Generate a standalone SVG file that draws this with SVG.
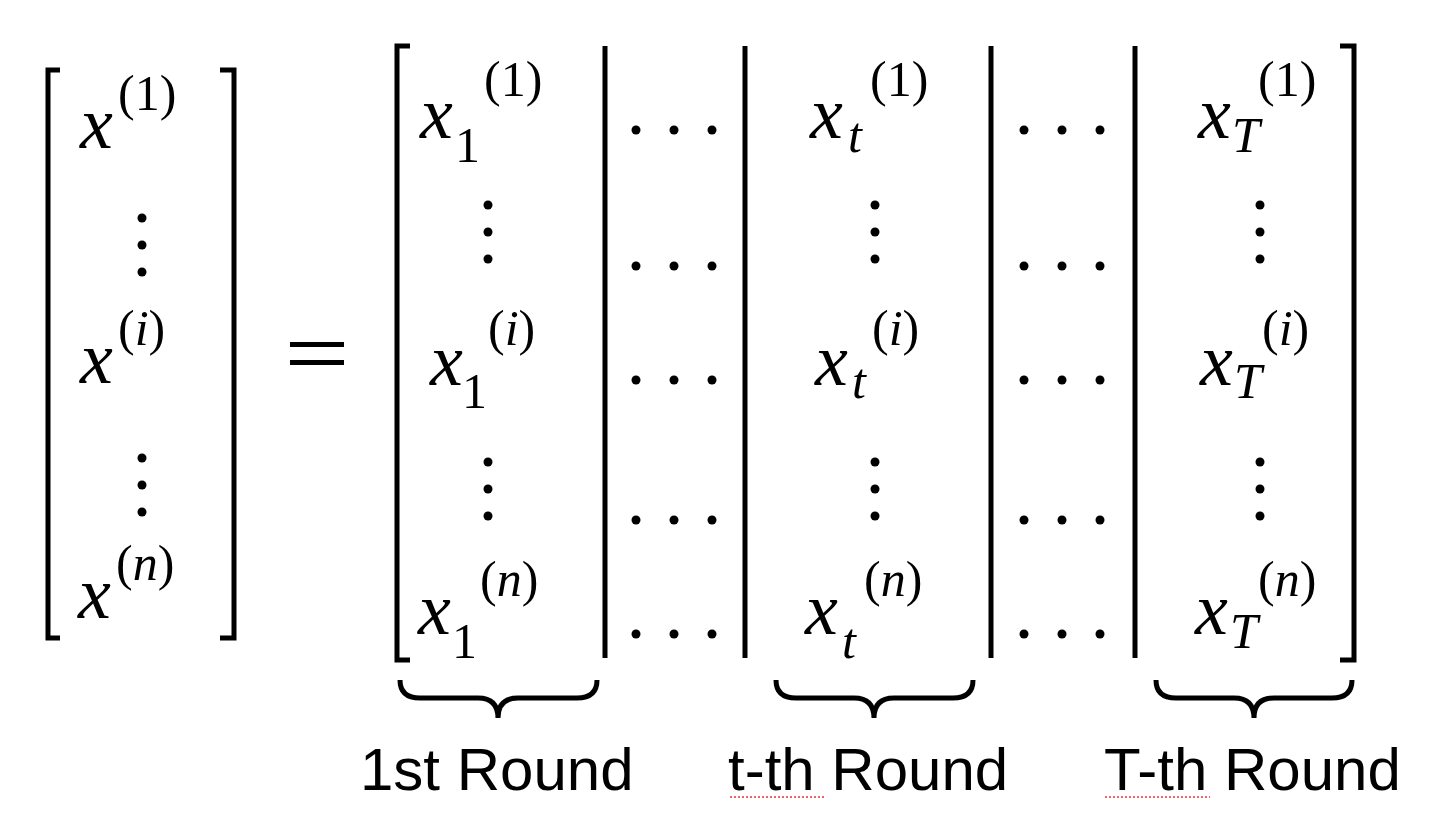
<svg xmlns="http://www.w3.org/2000/svg" width="1432" height="818" viewBox="0 0 1432 818">
<style>
.m{font-family:"Liberation Serif",serif;font-style:italic;font-size:74px;fill:#000}
.s{font-family:"Liberation Serif",serif;font-size:50px;fill:#000}
.si{font-family:"Liberation Serif",serif;font-style:italic;font-size:50px;fill:#000}
.br{fill:none;stroke:#000;stroke-width:5}
.lab{font-family:"Liberation Sans",sans-serif;font-size:60px;fill:#000}
</style>
<defs>
<g id="vd"><circle cx="0" cy="0" r="4.5"/><circle cx="0" cy="27" r="4.5"/><circle cx="0" cy="54" r="4.5"/></g>
<g id="hd"><circle cx="0" cy="0" r="4.5"/><circle cx="38" cy="0" r="4.5"/><circle cx="76" cy="0" r="4.5"/></g>
</defs>
<rect width="1432" height="818" fill="#fff"/>
<g id="left-vector">
<path class="br" d="M60 70 H48 V638 H60 M220 70 H234 V638 H220"/>
<text class="m" x="80" y="148">x</text><text class="s" x="118" y="110">(1)</text>
<use href="#vd" x="142" y="218"/>
<text class="m" x="80" y="383">x</text><text class="s" x="118" y="345">(<tspan class="si">i</tspan>)</text>
<use href="#vd" x="142" y="458"/>
<text class="m" x="78" y="618">x</text><text class="s" x="116" y="580">(<tspan class="si">n</tspan>)</text>
</g>
<g id="equals"><rect x="290" y="342" width="54" height="5"/><rect x="290" y="360" width="54" height="5"/></g>
<g id="big-matrix">
<path class="br" d="M410 46 H397 V660 H410 M1340 46 H1354 V660 H1340"/>
<path class="br" d="M605 46 V658 M745 46 V658 M991 46 V658 M1135 46 V658"/>
<text class="m" x="420" y="138">x</text><text class="s" x="455" y="162">1</text><text class="s" x="484" y="96">(1)</text>
<use href="#vd" x="488" y="205"/>
<text class="m" x="430" y="385">x</text><text class="s" x="462" y="408">1</text><text class="s" x="488" y="345">(<tspan class="si">i</tspan>)</text>
<use href="#vd" x="488" y="462"/>
<text class="m" x="418" y="634">x</text><text class="s" x="452" y="658">1</text><text class="s" x="480" y="596">(<tspan class="si">n</tspan>)</text>
<text class="m" x="810" y="138">x</text><text class="si" x="848" y="152">t</text><text class="s" x="870" y="96">(1)</text>
<use href="#vd" x="875" y="205"/>
<text class="m" x="815" y="385">x</text><text class="si" x="852" y="398">t</text><text class="s" x="872" y="345">(<tspan class="si">i</tspan>)</text>
<use href="#vd" x="875" y="462"/>
<text class="m" x="805" y="634">x</text><text class="si" x="842" y="658">t</text><text class="s" x="864" y="596">(<tspan class="si">n</tspan>)</text>
<text class="m" x="1198" y="138">x</text><text class="si" x="1232" y="152">T</text><text class="s" x="1258" y="96">(1)</text>
<use href="#vd" x="1260" y="205"/>
<text class="m" x="1200" y="385">x</text><text class="si" x="1234" y="398">T</text><text class="s" x="1262" y="345">(<tspan class="si">i</tspan>)</text>
<use href="#vd" x="1260" y="462"/>
<text class="m" x="1195" y="634">x</text><text class="si" x="1230" y="648">T</text><text class="s" x="1258" y="596">(<tspan class="si">n</tspan>)</text>
<use href="#hd" x="636" y="130"/><use href="#hd" x="636" y="266"/><use href="#hd" x="636" y="380"/><use href="#hd" x="636" y="520"/><use href="#hd" x="636" y="634"/>
<use href="#hd" x="1024" y="130"/><use href="#hd" x="1024" y="266"/><use href="#hd" x="1024" y="380"/><use href="#hd" x="1024" y="520"/><use href="#hd" x="1024" y="634"/>
</g>
<g id="braces">
<path class="br" d="M400 680 Q400 698 420 698 L478 698 Q498 698 498 718 Q498 698 518 698 L577 698 Q597 698 597 680"/>
<path class="br" d="M776 680 Q776 698 796 698 L854 698 Q874 698 874 718 Q874 698 894 698 L953 698 Q973 698 973 680"/>
<path class="br" d="M1156 680 Q1156 698 1176 698 L1234 698 Q1254 698 1254 718 Q1254 698 1274 698 L1332 698 Q1352 698 1352 680"/>
</g>
<g id="labels">
<text class="lab" x="360" y="790">1st Round</text>
<text class="lab" x="728" y="790">t-th Round</text>
<text class="lab" x="1104" y="790">T-th Round</text>
<path d="M730 797 H826 M1105 797 H1210" stroke="#e33" stroke-width="1.5" stroke-dasharray="2 2"/>
</g>
</svg>
